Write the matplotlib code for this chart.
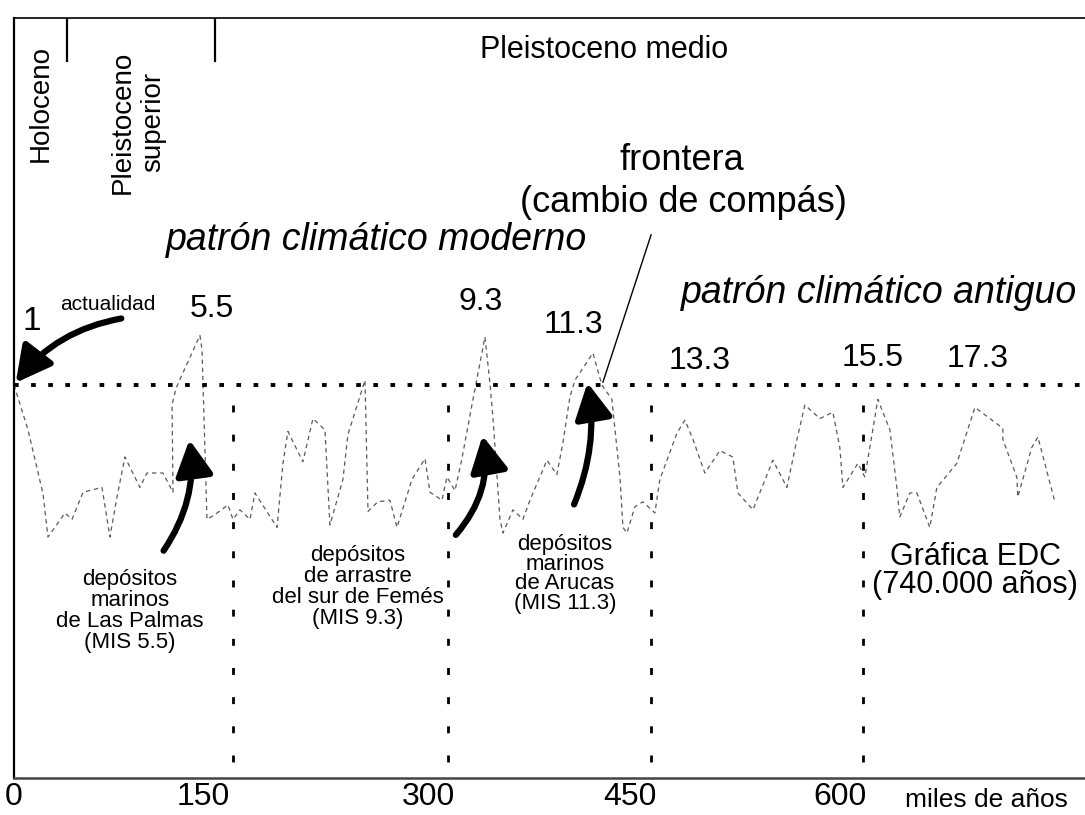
import matplotlib
matplotlib.use("Agg")
import matplotlib.pyplot as plt
from matplotlib.patches import FancyArrowPatch

plt.rcParams['font.family'] = ['Liberation Sans', 'DejaVu Sans']

# ---------------- data (EDC temperature anomaly, schematic) ----------------
age_kyr = [0, 9.9, 20.5, 24.0, 36.0, 41.0, 48.8, 62.2, 67.8, 72.8, 78.4, 89.0, 94.0,
           105.3, 112.4, 111.7, 114.5, 131.4, 132.9, 136.4, 142.0, 151.2, 154.8, 159.7,
           166.8, 170.3, 185.9, 190.1, 193.6, 204.2, 211.3, 219.8, 223.3, 232.5, 236.0,
           248.1, 250.2, 257.2, 265.7, 270.7, 281.3, 290.5, 294.0, 302.5, 306.0, 311.7,
           316.6, 324.4, 332.9, 336.4, 338.5, 343.5, 345.6, 352.7, 359.7, 364.7, 376.7,
           383.7, 388.0, 392.9, 396.5, 409.2, 415.5, 422.6, 426.1, 428.3, 430.4, 433.2,
           438.9, 444.5, 453.0, 456.5, 468.6, 474.2, 479.9, 488.3, 498.9, 508.1, 511.7,
           522.3, 536.4, 546.3, 553.4, 559.0, 569.6, 578.8, 583.7, 585.9, 596.5, 601.4,
           610.6, 619.1, 624.0, 626.1, 633.2, 638.2, 647.3, 652.3, 666.4, 679.2, 698.9,
           698.9, 708.8, 709.5, 719.4, 723.7, 728.6, 735.7]
temp_anom = [0.0, -2.8, -6.8, -9.5, -8.0, -8.4, -6.7, -6.4, -9.5, -7.0, -4.5, -6.4, -5.5,
             -5.5, -6.7, -1.25, -0.2, 3.1, 2.2, -8.4, -8.1, -7.5, -8.4, -7.8,
             -8.4, -6.75, -8.9, -4.9, -2.9, -4.8, -2.1, -2.8, -8.75, -5.9, -3.1,
             0.3, -7.9, -7.3, -7.2, -8.9, -5.9, -4.6, -6.7, -7.2, -5.75, -6.6,
             -4.6, -0.9, 3.0, 0.1, -2.0, -8.4, -9.25, -7.8, -8.4, -7.2, -4.7,
             -5.6, -3.6, -0.75, 0.3, 2.0, 0.0, -0.9, -3.9, -5.75, -8.9, -9.25,
             -7.6, -7.3, -8.0, -5.9, -3.0, -2.2, -3.4, -5.5, -4.1, -4.5, -6.75,
             -7.8, -4.7, -6.4, -3.4, -1.25, -2.1, -1.7, -3.9, -6.4, -4.9, -5.75,
             -0.9, -2.8, -6.4, -8.25, -6.75, -6.75, -8.9, -6.4, -4.9, -1.4, -2.7,
             -3.4, -5.75, -7.0, -3.9, -3.25, -4.9, -7.3]

present_level = 0.0
boundary_ages = [154.8, 306.7, 450.2, 600.0]       # vertical dashed separators
period_limits = [37.5, 142.0]                       # Holoceno | P. superior | P. medio
mis_labels = ["5.5", "9.3", "11.3", "13.3", "15.5", "17.3"]
tick_values = ["0", "150", "300", "450", "600"]
tick_pos = [0, 133.6, 292.6, 435.4, 583.8]

# ---------------- figure ----------------
W, H = 1085, 815
fig = plt.figure(figsize=(W / 100, H / 100), dpi=100)
ax = fig.add_axes([14 / W, 37 / H, 1071 / W, 760 / H])
ax.set_xlim(0, 757)
ax.set_ylim(-24.5625, 22.9375)

ax.spines['right'].set_visible(False)
ax.spines['left'].set_linewidth(1.6)
ax.spines['top'].set_linewidth(1.2)
ax.spines['bottom'].set_linewidth(1.8)
ax.spines['bottom'].set_color('#444444')
ax.set_yticks([])
ax.set_xticks(tick_pos)
ax.set_xticklabels(tick_values, fontsize=23)
ax.tick_params(axis='x', length=0, pad=3)

# temperature curve
ax.plot(age_kyr, temp_anom, color='#5a5a5a', lw=0.9, ls=(0, (3.5, 3)))

# present-day level
ax.axhline(present_level, color='black', lw=2.8, ls=(0, (1.2, 3.2)))

# boundaries
for b in boundary_ages:
    ax.plot([b, b], [-1.25, -24.5625], color='black', lw=2.0, ls=(0, (2.5, 8)))

for p in period_limits:
    ax.plot([p, p], [20.25, 22.9375], color='black', lw=1.6)

def P(px, py):
    return (px, H - py)

def txt(px, py, s, size, **kw):
    ax.annotate(s, xy=P(px, py), xycoords='figure pixels', ha='center', va='center',
                fontsize=size, **kw)

txt(41, 104, "Holoceno", 20, rotation=90)
txt(138, 122, "Pleistoceno\nsuperior", 20, rotation=90, multialignment='center')
txt(604, 50, "Pleistoceno medio", 22)
txt(682, 160, "frontera", 26)
txt(683, 203, "(cambio de compás)", 26)
txt(377, 240, "patrón climático moderno", 27, style='italic')
txt(879, 293, "patrón climático antiguo", 27, style='italic')
txt(32, 321, "1", 24)
txt(108, 305, "actualidad", 15)

mis_xy = [(212, 309), (481, 302), (573, 325), (700, 361), (873, 358), (978, 359)]
for lab, (px, py) in zip(mis_labels, mis_xy):
    txt(px, py, lab, 23)

txt(130, 611, "depósitos\nmarinos\nde Las Palmas\n(MIS 5.5)", 16, linespacing=1.0,
    multialignment='center')
txt(358, 587, "depósitos\nde arrastre\ndel sur de Femés\n(MIS 9.3)", 16, linespacing=0.98,
    multialignment='center')
txt(565, 574, "depósitos\nmarinos\nde Arucas\n(MIS 11.3)", 16, linespacing=0.92,
    multialignment='center')
txt(975, 571, "Gráfica EDC\n(740.000 años)", 22, linespacing=0.95, multialignment='center')
txt(986, 800, "miles de años", 19)

# frontera pointer
ax.annotate("", xy=P(602, 385), xytext=P(652, 232), xycoords='figure pixels',
            textcoords='figure pixels',
            arrowprops=dict(arrowstyle='-', color='black', lw=1.0))

# thick curved arrows
def arrow(a, b, rad):
    fa = FancyArrowPatch(P(*a), P(*b), transform=None,
                         connectionstyle=f"arc3,rad={rad}",
                         arrowstyle="-|>,head_length=1.8,head_width=0.95",
                         mutation_scale=12, lw=4.5, color='black')
    fig.patches.append(fa)

arrow((124, 318), (14, 385), 0.2)
arrow((162, 553), (189, 437), 0.2)
arrow((454, 537), (482, 433), 0.25)
arrow((573, 507), (587, 380), 0.15)

fig.savefig("out.png", dpi=100)
